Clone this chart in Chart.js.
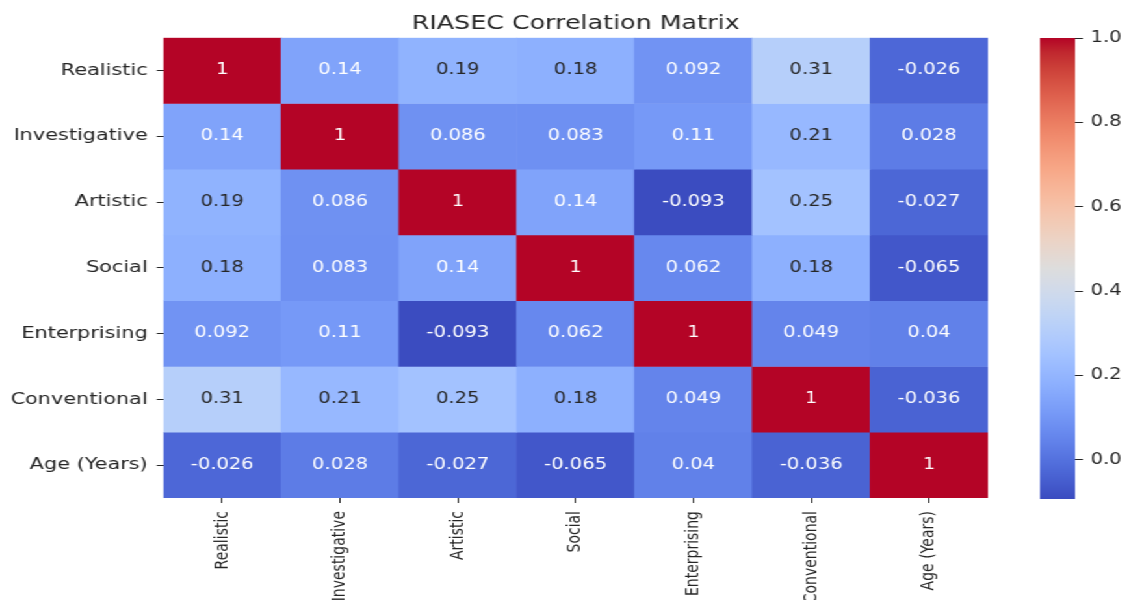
<!DOCTYPE html>
<html>
<head>
<meta charset="utf-8">
<script src="https://cdn.jsdelivr.net/npm/chart.js@4"></script>
<style>
  html, body { margin: 0; padding: 0; background: #ffffff; overflow: hidden; }
  #wrap { position: absolute; left: 0; top: 0; width: 866px; height: 600px;
          transform: scaleX(1.3); transform-origin: 0 0; }
  #heat { position: absolute; left: 0; top: 0; }
  #cbar { position: absolute; left: 780px; top: 0; }
</style>
</head>
<body>
<div id="wrap">
  <canvas id="heat" width="866" height="600"></canvas>
  <canvas id="cbar" width="87" height="600"></canvas>
</div>
<script>
// ---- data ----
const rowLabels = ["Realistic", "Investigative", "Artistic", "Social", "Enterprising", "Conventional", "Age (Years)"];
const colLabels = ["Realistic", "Investigative", "Artistic", "Social", "Enterprising", "Conventional", "Age (Years)"];
const rowRealistic     = [1, 0.14, 0.19, 0.18, 0.092, 0.31, -0.026];
const rowInvestigative = [0.14, 1, 0.086, 0.083, 0.11, 0.21, 0.028];
const rowArtistic      = [0.19, 0.086, 1, 0.14, -0.093, 0.25, -0.027];
const rowSocial        = [0.18, 0.083, 0.14, 1, 0.062, 0.18, -0.065];
const rowEnterprising  = [0.092, 0.11, -0.093, 0.062, 1, 0.049, 0.04];
const rowConventional  = [0.31, 0.21, 0.25, 0.18, 0.049, 1, -0.036];
const rowAge           = [-0.026, 0.028, -0.027, -0.065, 0.04, -0.036, 1];
const colorbarTicks = [0, 0.2, 0.4, 0.6, 0.8, 1.0];
const titleText = "RIASEC Correlation Matrix";

const matrix = [rowRealistic, rowInvestigative, rowArtistic, rowSocial, rowEnterprising, rowConventional, rowAge];
const vmin = Math.min(...matrix.flat());
const vmax = Math.max(...matrix.flat());

// ---- coolwarm colormap ----
const coolwarm = [
 [59,76,192],[68,90,204],[77,104,215],[87,117,225],[98,130,234],[108,142,241],[119,154,247],[130,165,251],
 [141,176,254],[152,185,255],[163,194,255],[174,201,253],[184,208,249],[194,213,244],[204,217,238],[213,219,230],
 [221,221,221],[229,216,209],[236,211,197],[241,204,184],[245,196,172],[247,187,159],[247,177,147],[247,166,134],
 [244,154,123],[241,141,111],[236,127,99],[229,112,89],[222,96,77],[213,80,66],[203,62,56],[192,40,47],[180,4,38]
];
function cmapRGB(t) {
  t = Math.max(0, Math.min(1, t));
  const n = coolwarm.length - 1;
  const f = t * n, i = Math.min(n - 1, Math.floor(f)), w = f - i;
  const a = coolwarm[i], b = coolwarm[i + 1];
  return [0,1,2].map(k => a[k] + (b[k] - a[k]) * w);
}
function colorFor(v) {
  const c = cmapRGB((v - vmin) / (vmax - vmin));
  return `rgb(${Math.round(c[0])},${Math.round(c[1])},${Math.round(c[2])})`;
}
function textColorFor(v) {
  const c = cmapRGB((v - vmin) / (vmax - vmin)).map(x => {
    x = x / 255;
    return x <= 0.03928 ? x / 12.92 : Math.pow((x + 0.055) / 1.055, 2.4);
  });
  const lum = 0.2126 * c[0] + 0.7152 * c[1] + 0.0722 * c[2];
  return lum > 0.408 ? '#262626' : '#ffffff';
}
function fmt(v) { return String(Number(v.toPrecision(2))); }

const FONT = "'DejaVu Sans', 'Liberation Sans', sans-serif";
Chart.defaults.font.family = FONT;
Chart.defaults.color = '#262626';

const annotPlugin = {
  id: 'annot',
  afterDatasetsDraw(chart) {
    const ctx = chart.ctx;
    ctx.save();
    ctx.font = `15px ${FONT}`;
    ctx.textAlign = 'center';
    ctx.textBaseline = 'middle';
    chart.data.datasets.forEach((ds, i) => {
      const meta = chart.getDatasetMeta(i);
      meta.data.forEach((el, j) => {
        const p = el.getProps(['x', 'y', 'base'], true);
        const v = matrix[i][j];
        ctx.fillStyle = textColorFor(v);
        ctx.fillText(fmt(v), p.x, (p.y + p.base) / 2);
      });
    });
    ctx.restore();
  }
};

new Chart(document.getElementById('heat'), {
  type: 'bar',
  data: {
    labels: colLabels,
    datasets: rowLabels.map((name, i) => ({
      label: name,
      data: colLabels.map(() => [i - 0.5, i + 0.5]),
      backgroundColor: matrix[i].map(colorFor),
      borderWidth: 0,
      barPercentage: 1,
      categoryPercentage: 1,
      grouped: false
    }))
  },
  options: {
    responsive: false,
    animation: false,
    layout: { padding: { left: 0, right: 106, top: 0, bottom: 0 } },
    plugins: {
      legend: { display: false },
      tooltip: { enabled: false },
      title: {
        display: true,
        text: titleText,
        fullSize: false,
        color: '#262626',
        font: { size: 19.5, weight: 'normal', family: FONT, lineHeight: 1.2 },
        padding: { top: 12.5, bottom: 1.8 }
      }
    },
    scales: {
      x: {
        type: 'category',
        offset: true,
        border: { display: false },
        grid: { display: true, drawOnChartArea: false, drawTicks: true, tickLength: 5,
                offset: false, color: 'rgba(0,0,0,0)', tickColor: '#262626', tickWidth: 1 },
        ticks: { autoSkip: false, minRotation: 90, maxRotation: 90, padding: 8,
                 font: { size: 14, family: FONT }, color: '#262626' },
        afterFit(s) { s.height = 102; }
      },
      y: {
        type: 'linear',
        reverse: true,
        min: -0.5,
        max: 6.5,
        border: { display: false },
        grid: { display: true, drawOnChartArea: false, drawTicks: true, tickLength: 5,
                color: 'rgba(0,0,0,0)', tickColor: '#262626', tickWidth: 1 },
        afterBuildTicks(s) { s.ticks = rowLabels.map((_, i) => ({ value: i })); },
        ticks: { padding: 7, font: { size: 16, family: FONT }, color: '#262626',
                 callback: (v) => rowLabels[v] },
        afterFit(s) { s.width = 125.6; }
      }
    }
  },
  plugins: [annotPlugin]
});

new Chart(document.getElementById('cbar'), {
  type: 'bar',
  data: {
    labels: [''],
    datasets: [{
      data: [[vmin, vmax]],
      borderWidth: 0,
      barPercentage: 1,
      categoryPercentage: 1,
      backgroundColor(c) {
        const ca = c.chart.chartArea;
        if (!ca) return coolwarm[16];
        const g = c.chart.ctx.createLinearGradient(0, ca.bottom, 0, ca.top);
        coolwarm.forEach((rgb, k) => g.addColorStop(k / (coolwarm.length - 1), `rgb(${rgb[0]},${rgb[1]},${rgb[2]})`));
        return g;
      }
    }]
  },
  options: {
    responsive: false,
    animation: false,
    layout: { padding: { left: 20, right: 0, top: 38, bottom: 101 } },
    plugins: { legend: { display: false }, tooltip: { enabled: false }, title: { display: false } },
    scales: {
      x: { display: false },
      y: {
        position: 'right',
        min: vmin,
        max: vmax,
        border: { display: false },
        grid: { display: true, drawOnChartArea: false, drawTicks: true, tickLength: 6,
                color: 'rgba(0,0,0,0)', tickColor: '#262626', tickWidth: 1 },
        afterBuildTicks(s) { s.ticks = colorbarTicks.map(v => ({ value: v })); },
        ticks: { padding: 6, font: { size: 15, family: FONT }, color: '#262626',
                 callback: (v) => Number(v).toFixed(1) },
        afterFit(s) { s.width = 40; }
      }
    }
  }
});
</script>
</body>
</html>
